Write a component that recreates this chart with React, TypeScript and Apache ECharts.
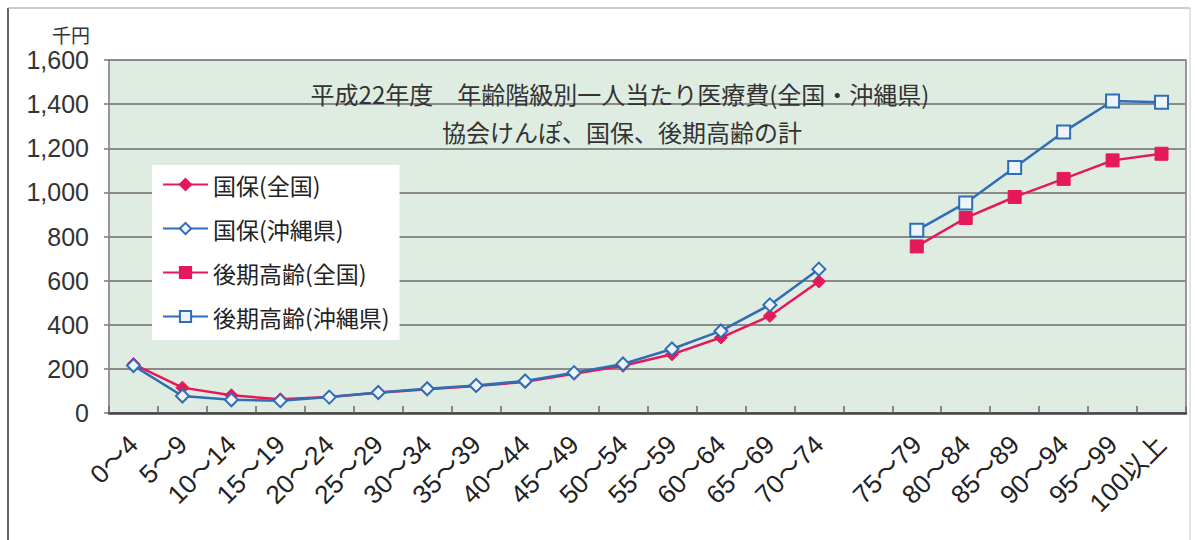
import React, { useEffect, useRef } from "react";
import * as echarts from "echarts";

const categories = [
  "0～4", "5～9", "10～14", "15～19", "20～24", "25～29", "30～34", "35～39",
  "40～44", "45～49", "50～54", "55～59", "60～64", "65～69", "70～74", "",
  "75～79", "80～84", "85～89", "90～94", "95～99", "100以上",
];

const kokuhoZenkoku = [222, 115, 80, 62, 72, 92, 108, 122, 141, 178, 214, 266, 342, 440, 596];
const kokuhoOkinawa = [215, 77, 60, 56, 72, 93, 110, 125, 145, 183, 222, 290, 372, 490, 652];
const kokiZenkoku = [755, 884, 979, 1061, 1145, 1175];
const kokiOkinawa = [828, 952, 1113, 1274, 1414, 1408];

const seriesNames = ["国保(全国)", "国保(沖縄県)", "後期高齢(全国)", "後期高齢(沖縄県)"];
const titleLines = ["平成22年度　年齢階級別一人当たり医療費(全国・沖縄県)", "協会けんぽ、国保、後期高齢の計"];
const yUnit = "千円";

const RED = "#e5195a";
const BLUE = "#2f6db5";
const JP = "'Noto Sans CJK JP', 'Noto Sans', sans-serif";
const NUM = "'Liberation Sans Narrow', 'Liberation Sans', 'Noto Sans CJK JP', sans-serif";

function padFront(arr: number[], total: number) {
  const out: (number | null)[] = [];
  for (let i = 0; i < total; i++) out.push(i < arr.length ? arr[i] : null);
  return out;
}
function padBack(arr: number[], total: number) {
  const out: (number | null)[] = [];
  const start = total - arr.length;
  for (let i = 0; i < total; i++) out.push(i >= start ? arr[i - start] : null);
  return out;
}

export default function App() {
  const ref = useRef<HTMLDivElement>(null);
  useEffect(() => {
    if (!ref.current) return;
    const chart = echarts.init(ref.current, null, { renderer: "svg" });
    const n = categories.length;
    chart.setOption({
      animation: false,
      backgroundColor: "#ffffff",
      grid: {
        left: 109,
        right: 9,
        top: 60,
        bottom: 127,
        show: true,
        backgroundColor: "#dfece1",
        borderColor: "#7a7a7a",
        borderWidth: 1.5,
        outerBoundsMode: "none",
      },
      legend: {
        orient: "vertical",
        left: 152,
        top: 165,
        padding: [8, 10, 12, 10],
        itemGap: 21,
        itemWidth: 45,
        itemHeight: 14,
        backgroundColor: "#ffffff",
        textStyle: { fontFamily: JP, fontSize: 23, color: "#222" },
        data: seriesNames,
      },
      xAxis: {
        type: "category",
        data: categories,
        boundaryGap: true,
        axisLine: { show: true, lineStyle: { color: "#444", width: 2.5 } },
        axisTick: { show: true, inside: true, length: 7, lineStyle: { color: "#666", width: 1.5 } },
        axisLabel: {
          interval: 0,
          rotate: 45,
          margin: 27,
          fontFamily: NUM,
          fontSize: 26,
          color: "#222",
        },
        splitLine: { show: false },
      },
      yAxis: {
        type: "value",
        min: 0,
        max: 1600,
        interval: 200,
        axisLine: { show: false },
        axisTick: { show: true, length: 5, lineStyle: { color: "#777", width: 1.5 } },
        axisLabel: {
          margin: 20,
          fontFamily: NUM,
          fontSize: 25,
          color: "#333",
          formatter: (v: number) => v.toLocaleString("en-US"),
        },
        splitLine: { show: true, lineStyle: { color: "#8a8a88", width: 2 } },
      },
      graphic: [
        { type: "line", shape: { x1: 8, y1: 8, x2: 8, y2: 540 }, style: { stroke: "#333", lineWidth: 1.5 } },
        { type: "line", shape: { x1: 8, y1: 8, x2: 1190, y2: 8 }, style: { stroke: "#999", lineWidth: 1.2 } },
        { type: "line", shape: { x1: 1190, y1: 8, x2: 1190, y2: 540 }, style: { stroke: "#c8c8c8", lineWidth: 1 } },
        {
          type: "text",
          x: 71,
          y: 34,
          style: { text: yUnit, fontFamily: JP, fontSize: 19, fill: "#333", textAlign: "center", textVerticalAlign: "middle" },
        },
        {
          type: "text",
          x: 620,
          y: 93,
          z: 10,
          style: { text: titleLines[0], fontFamily: JP, fontSize: 24, fill: "#333", textAlign: "center", textVerticalAlign: "middle" },
        },
        {
          type: "text",
          x: 622,
          y: 131,
          z: 10,
          style: { text: titleLines[1], fontFamily: JP, fontSize: 24, fill: "#333", textAlign: "center", textVerticalAlign: "middle" },
        },
      ],
      series: [
        {
          name: seriesNames[0],
          type: "line",
          data: padFront(kokuhoZenkoku, n),
          symbol: "diamond",
          symbolSize: 13,
          color: RED,
          lineStyle: { color: RED, width: 2.5 },
          itemStyle: { color: RED, borderColor: RED, borderWidth: 1 },
        },
        {
          name: seriesNames[1],
          type: "line",
          data: padFront(kokuhoOkinawa, n),
          symbol: "diamond",
          symbolSize: 13,
          color: BLUE,
          lineStyle: { color: BLUE, width: 2.5 },
          itemStyle: { color: "#eef4fb", borderColor: BLUE, borderWidth: 2 },
        },
        {
          name: seriesNames[2],
          type: "line",
          data: padBack(kokiZenkoku, n),
          symbol: "rect",
          symbolSize: 13,
          color: RED,
          lineStyle: { color: RED, width: 2.5 },
          itemStyle: { color: RED, borderColor: RED, borderWidth: 1 },
        },
        {
          name: seriesNames[3],
          type: "line",
          data: padBack(kokiOkinawa, n),
          symbol: "rect",
          symbolSize: 13,
          color: BLUE,
          lineStyle: { color: BLUE, width: 2.5 },
          itemStyle: { color: "#eef4fb", borderColor: BLUE, borderWidth: 2 },
        },
      ],
    });
    return () => chart.dispose();
  }, []);
  return (
    <div
      ref={ref}
      style={{ position: "absolute", left: 0, top: 0, width: 1195, height: 540 }}
    />
  );
}
